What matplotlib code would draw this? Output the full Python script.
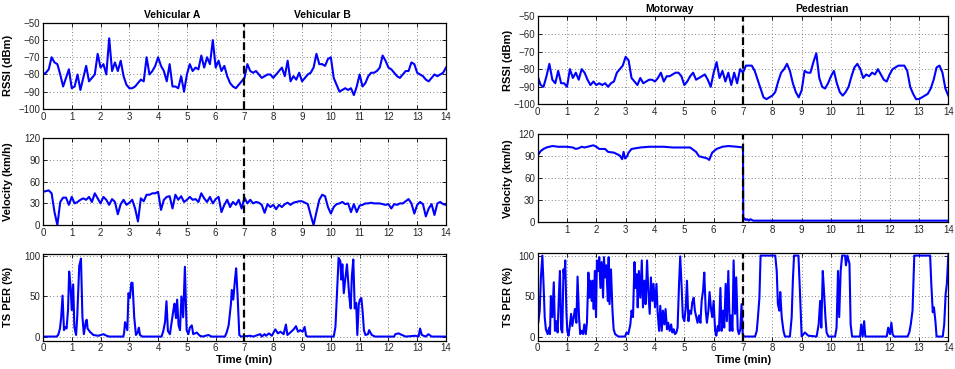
import numpy as np
import matplotlib
matplotlib.use("Agg")
import matplotlib.pyplot as plt

plt.rcParams['font.family'] = ['Liberation Sans', 'DejaVu Sans']

# time grid for the regularly read series (every 0.1 min)
t_grid = np.linspace(0, 14, 141)

# ---- Vehicular A / B ----
rssi_a = [-80, -79, -77, -70, -73, -74, -80, -87, -82, -77,
          -88, -87, -80, -89, -82, -75, -84, -82, -80, -68,
          -76, -74, -80, -59, -78, -73, -78, -72, -81, -86,
          -88, -88, -87, -85, -83, -84, -70, -80, -78, -75,
          -70, -75, -78, -84, -74, -87, -87, -88, -81, -90,
          -80, -74, -78, -76, -77, -69, -76, -70, -74, -60,
          -76, -72, -78, -75, -81, -85, -87, -88, -86, -84,
          -82, -74, -78, -79, -78, -80, -82, -81, -80, -80,
          -82, -80, -78, -76, -81, -72, -84, -81, -83, -79,
          -84, -82, -80, -79, -76, -68, -74, -74, -75, -71,
          -70, -82, -86, -90, -89, -88, -89, -88, -92, -87,
          -80, -87, -85, -81, -79, -79, -78, -76, -69, -72,
          -76, -77, -79, -81, -82, -80, -78, -78, -73, -74,
          -79, -80, -81, -83, -84, -82, -80, -81, -80, -79,
          -76]

vel_a = [46, 47, 48, 44, 18, 0, 32, 38, 38, 28,
         39, 30, 32, 35, 37, 35, 39, 32, 44, 37,
         30, 39, 35, 28, 36, 32, 15, 29, 35, 28,
         31, 35, 23, 5, 37, 33, 42, 42, 44, 44,
         46, 21, 35, 39, 40, 23, 42, 35, 40, 32,
         35, 39, 35, 36, 32, 44, 37, 32, 39, 30,
         36, 39, 18, 28, 35, 25, 32, 28, 35, 23,
         38, 30, 35, 30, 32, 31, 28, 17, 29, 25,
         28, 22, 28, 25, 29, 31, 28, 31, 32, 33,
         33, 31, 29, 14, 0, 18, 35, 42, 40, 25,
         16, 25, 29, 30, 32, 29, 30, 18, 29, 18,
         27, 28, 30, 30, 31, 30, 30, 30, 29, 28,
         29, 23, 29, 28, 30, 30, 33, 36, 30, 16,
         28, 32, 29, 12, 23, 29, 14, 30, 32, 29,
         28]

per_a_t = [0, 0.47, 0.53, 0.59, 0.63, 0.68, 0.73, 0.78, 0.82, 0.87,
           0.91, 0.96, 1.0, 1.05, 1.09, 1.15, 1.19, 1.26, 1.32, 1.37,
           1.42, 1.49, 1.52, 1.55, 1.63, 1.75, 1.92, 2.1, 2.21, 2.3,
           2.79, 2.82, 2.85, 2.93, 2.97, 3.02, 3.07, 3.11, 3.17, 3.23,
           3.29, 3.33, 3.37, 3.45, 4.12, 4.18, 4.24, 4.29, 4.34, 4.41,
           4.47, 4.53, 4.57, 4.62, 4.66, 4.71, 4.76, 4.81, 4.87, 4.93,
           4.99, 5.05, 5.1, 5.17, 5.22, 5.34, 5.45, 5.55, 5.75, 5.85,
           6.32, 6.38, 6.45, 6.53, 6.56, 6.61, 6.67, 6.71, 6.76, 6.82,
           6.88, 7.2, 7.3, 7.55, 7.6, 7.7, 7.75, 7.85, 7.95, 8.07,
           8.16, 8.25, 8.36, 8.44, 8.49, 8.59, 8.71, 8.79, 8.86, 8.94,
           9.02, 9.09, 9.14, 9.2, 10.1, 10.16, 10.22, 10.27, 10.33, 10.36,
           10.4, 10.45, 10.5, 10.56, 10.59, 10.64, 10.69, 10.73, 10.78, 10.83,
           10.88, 10.92, 10.97, 11.01, 11.06, 11.1, 11.15, 11.2, 11.29, 11.33,
           11.42, 11.54, 12.2, 12.24, 12.35, 12.47, 12.6, 12.93, 13.05, 13.1,
           13.16, 13.3, 13.39, 13.5, 14]
per_a = [0, 0, 2, 10, 23, 51, 8, 12, 10, 33,
         81, 62, 33, 65, 12, 2, 25, 88, 97, 25,
         3, 19, 21, 10, 6, 2, 1, 3, 1, 0,
         0, 5, 18, 8, 54, 48, 67, 67, 24, 2,
         5, 11, 2, 0, 0, 7, 18, 44, 7, 3,
         18, 33, 41, 23, 46, 14, 8, 50, 24, 87,
         8, 3, 11, 14, 3, 5, 1, 0, 2, 0,
         0, 5, 14, 41, 58, 46, 71, 85, 52, 2,
         0, 1, 0, 3, 0, 3, 1, 4, 1, 9,
         4, 6, 3, 15, 2, 5, 9, 13, 6, 8,
         6, 12, 1, 0, 0, 12, 58, 98, 94, 71,
         90, 54, 71, 90, 75, 50, 35, 75, 96, 35,
         42, 2, 40, 46, 48, 33, 8, 2, 3, 8,
         2, 0, 0, 3, 4, 2, 0, 1, 0, 10,
         2, 0, 3, 0, 0]

# ---- Motorway / Pedestrian ----
rssi_b = [-84, -89, -90, -84, -77, -86, -88, -81, -88, -88,
          -90, -80, -85, -82, -86, -80, -82, -86, -89, -87,
          -89, -88, -89, -88, -90, -88, -87, -82, -80, -78,
          -73, -75, -85, -87, -89, -85, -88, -87, -86, -86,
          -87, -85, -82, -87, -84, -84, -83, -82, -82, -84,
          -89, -87, -84, -82, -86, -85, -84, -83, -86, -90,
          -82, -76, -85, -81, -87, -82, -89, -82, -88, -80,
          -82, -78, -78, -78, -81, -86, -91, -96, -97, -96,
          -95, -93, -87, -82, -80, -77, -81, -88, -93, -96,
          -92, -81, -82, -82, -76, -71, -85, -90, -91, -88,
          -84, -81, -88, -93, -95, -93, -90, -84, -79, -77,
          -80, -85, -83, -84, -82, -83, -80, -83, -86, -87,
          -83, -80, -79, -78, -78, -78, -81, -90, -94, -97,
          -97, -96, -95, -94, -91, -86, -79, -78, -82, -91,
          -95]

vel_b_t = [0, 0.1, 0.2, 0.3, 0.5, 0.7, 1.0, 1.2, 1.3, 1.4,
           1.5, 1.6, 1.9, 2.0, 2.1, 2.3, 2.4, 2.6, 2.7, 2.8,
           2.88, 2.93, 2.98, 3.05, 3.1, 3.2, 3.5, 3.8, 4.0, 4.3,
           4.6, 4.9, 5.2, 5.4, 5.5, 5.6, 5.7, 5.78, 5.85, 5.95,
           6.1, 6.3, 6.5, 6.8, 7.0, 7.01, 7.05, 7.1, 7.15, 7.2,
           7.25, 7.3, 7.35, 14]
vel_b = [91, 97, 100, 102, 104, 103, 103, 102, 100, 101,
         103, 102, 105, 103, 100, 100, 96, 95, 93, 91,
         86, 96, 87, 90, 95, 100, 102, 103, 103, 103,
         102, 102, 102, 96, 90, 89, 88, 87, 85, 95,
         100, 103, 104, 103, 102, 3, 5, 3, 4, 2,
         4, 3, 2, 2]

per_b_t = [0, 0.02, 0.07, 0.11, 0.16, 0.2, 0.24, 0.28, 0.34, 0.39,
           0.42, 0.45, 0.5, 0.55, 0.59, 0.64, 0.68, 0.73, 0.76, 0.8,
           0.84, 0.88, 0.91, 0.94, 0.98, 1.01, 1.05, 1.09, 1.14, 1.18,
           1.23, 1.27, 1.32, 1.36, 1.41, 1.45, 1.5, 1.55, 1.59, 1.64,
           1.68, 1.73, 1.76, 1.8, 1.84, 1.88, 1.91, 1.95, 1.99, 2.02,
           2.07, 2.1, 2.14, 2.18, 2.23, 2.26, 2.3, 2.34, 2.39, 2.42,
           2.45, 2.5, 2.55, 2.59, 2.64, 2.75, 2.98, 3.03, 3.09, 3.16,
           3.2, 3.25, 3.3, 3.34, 3.38, 3.41, 3.45, 3.5, 3.55, 3.59,
           3.64, 3.68, 3.73, 3.77, 3.82, 3.86, 3.91, 3.95, 4.0, 4.05,
           4.09, 4.14, 4.18, 4.23, 4.27, 4.32, 4.36, 4.41, 4.45, 4.5,
           4.55, 4.59, 4.64, 4.68, 4.73, 4.77, 4.82, 4.86, 4.91, 4.95,
           5.0, 5.05, 5.09, 5.14, 5.18, 5.23, 5.27, 5.32, 5.36, 5.41,
           5.45, 5.5, 5.55, 5.59, 5.64, 5.68, 5.73, 5.77, 5.82, 5.86,
           5.91, 5.95, 6.0, 6.05, 6.09, 6.14, 6.18, 6.23, 6.27, 6.32,
           6.36, 6.41, 6.45, 6.5, 6.55, 6.59, 6.64, 6.68, 6.73, 6.77,
           6.82, 6.86, 6.91, 6.95, 6.99, 7.03, 7.41, 7.47, 7.51, 7.56,
           7.6, 8.1, 8.15, 8.19, 8.24, 8.27, 8.32, 8.38, 8.43, 8.6,
           8.66, 8.7, 8.74, 8.89, 8.94, 9.0, 9.11, 9.17, 9.23, 9.51,
           9.58, 9.63, 9.67, 9.72, 9.76, 9.81, 9.85, 9.91, 10.14, 10.19,
           10.24, 10.28, 10.33, 10.38, 10.48, 10.51, 10.56, 10.63, 10.67, 10.72,
           10.99, 11.03, 11.08, 11.13, 11.17, 11.9, 11.95, 12.01, 12.06, 12.1,
           12.15, 12.61, 12.67, 12.72, 12.78, 12.84, 13.38, 13.42, 13.47, 13.51,
           13.56, 13.6, 13.81, 13.86, 13.91, 13.95, 14.0]
per_b = [15, 17, 32, 73, 100, 65, 24, 9, 3, 11,
         3, 50, 24, 67, 7, 19, 5, 57, 81, 9,
         5, 83, 73, 94, 30, 7, 1, 11, 28, 13,
         24, 34, 17, 74, 24, 3, 7, 3, 15, 3,
         17, 79, 48, 69, 44, 69, 34, 81, 24, 94,
         81, 98, 60, 92, 48, 98, 73, 88, 44, 98,
         40, 83, 32, 9, 3, 0, 0, 5, 3, 15,
         32, 24, 92, 60, 77, 36, 81, 48, 94, 36,
         69, 40, 94, 57, 28, 73, 44, 65, 36, 65,
         30, 7, 38, 7, 32, 15, 34, 9, 17, 7,
         15, 5, 9, 3, 5, 11, 65, 99, 60, 24,
         19, 36, 69, 19, 32, 28, 42, 48, 32, 24,
         17, 26, 17, 44, 57, 79, 32, 17, 32, 55,
         34, 24, 44, 7, 1, 13, 7, 60, 7, 32,
         11, 65, 19, 81, 7, 26, 7, 94, 28, 73,
         9, 3, 9, 40, 3, 0, 0, 7, 24, 48,
         100, 100, 81, 40, 32, 55, 24, 7, 0, 0,
         24, 69, 100, 100, 57, 0, 5, 3, 1, 0,
         15, 44, 11, 81, 57, 24, 5, 0, 0, 11,
         81, 24, 81, 100, 100, 88, 100, 90, 15, 0,
         0, 15, 0, 19, 0, 0, 11, 3, 17, 3,
         0, 0, 5, 15, 32, 100, 100, 65, 30, 36,
         19, 0, 0, 15, 53, 65, 100]

titles_a = ["Vehicular A", "Vehicular B"]
titles_b = ["Motorway", "Pedestrian"]

blue = (0, 0, 1)
fig = plt.figure(figsize=(9.55, 3.69), dpi=100)

left = [0.045, 0.422]
right = [0.563, 0.430]
ax_a = [fig.add_axes([left[0], 0.705, left[1], 0.233]),
        fig.add_axes([left[0], 0.390, left[1], 0.235]),
        fig.add_axes([left[0], 0.077, left[1], 0.235])]
ax_b = [fig.add_axes([right[0], 0.717, right[1], 0.239]),
        fig.add_axes([right[0], 0.398, right[1], 0.238]),
        fig.add_axes([right[0], 0.077, right[1], 0.237])]


def style(ax, ylim, yticks, ylabel, labx):
    ax.set_xlim(0, 14)
    ax.set_ylim(*ylim)
    ax.set_yticks(yticks)
    ax.grid(True, linestyle=(0, (1, 3)), color='0.35', linewidth=0.6)
    ax.tick_params(direction='in', length=3, width=0.6, top=True, right=True,
                   labelsize=7, pad=2, labelcolor='0.15')
    for s in ax.spines.values():
        s.set_linewidth(0.9)
    ax.set_ylabel(ylabel, fontsize=8, fontweight='bold')
    ax.yaxis.set_label_coords(labx, 0.5)
    ax.axvline(7, color='black', linestyle=(0, (3.5, 1.8)), linewidth=1.6, zorder=4)


for axs, rssi, vt, vel, pt, per, titles, labx in [
        (ax_a, rssi_a, t_grid, vel_a, per_a_t, per_a, titles_a, -0.075),
        (ax_b, rssi_b, vel_b_t, vel_b, per_b_t, per_b, titles_b, -0.06)]:
    axs[0].plot(t_grid, rssi, color=blue, linewidth=1.5)
    style(axs[0], (-100, -50), range(-100, -49, 10), 'RSSI (dBm)', labx)
    axs[0].set_xticks(range(0, 15))
    axs[0].text(4.5, 1.03, titles[0], transform=axs[0].get_xaxis_transform(),
                ha='center', va='bottom', fontsize=7.5, fontweight='bold')
    axs[0].text(9.7, 1.03, titles[1], transform=axs[0].get_xaxis_transform(),
                ha='center', va='bottom', fontsize=7.5, fontweight='bold')

    axs[1].plot(vt, vel, color=blue, linewidth=1.5)
    style(axs[1], (0, 120), range(0, 121, 30), 'Velocity (km/h)', labx)

    axs[2].plot(pt, per, color=blue, linewidth=1.5)
    style(axs[2], (-5, 103), [0, 50, 100], 'TS PER (%)', labx)
    axs[2].set_xticks(range(0, 15))
    axs[2].set_xlabel('Time (min)', fontsize=8, fontweight='bold', labelpad=1)

ax_a[1].set_xticks(range(0, 15))
ax_b[1].set_xticks(range(1, 15))

fig.savefig('out.png', dpi=100)
